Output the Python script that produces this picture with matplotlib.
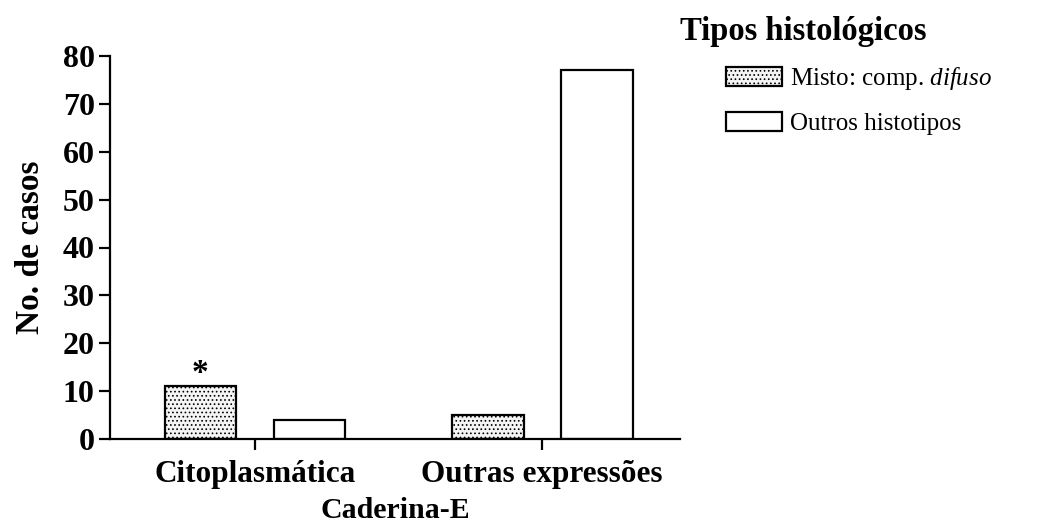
import matplotlib.pyplot as plt
import numpy as np

plt.rcParams['font.family'] = ['Liberation Serif', 'DejaVu Serif']
plt.rcParams['mathtext.fontset'] = 'custom'
plt.rcParams['mathtext.rm'] = 'Liberation Serif'
plt.rcParams['mathtext.it'] = 'Liberation Serif:italic'
plt.rcParams['hatch.linewidth'] = 0.7
plt.rcParams['hatch.color'] = '#707070'

grupos = ['Citoplasmática', 'Outras expressões']
misto_difuso = [11, 5]
outros_histotipos = [4, 77]

fig = plt.figure(figsize=(10.63, 5.3), dpi=100)
ax = fig.add_axes([110/1063, 1 - 439/530, 570/1063, 383/530])

x = np.arange(len(grupos))
larg = 0.25
b1 = ax.bar(x - 0.19, misto_difuso, larg, facecolor='#f4f4f4', edgecolor='black',
            hatch='....', linewidth=1.6, label='Misto: comp. $\\it{difuso}$')
b2 = ax.bar(x + 0.19, outros_histotipos, larg, facecolor='white', edgecolor='black',
            linewidth=1.6, label='Outros histotipos')

# asterisco de significancia
ax.text(x[0] - 0.19, misto_difuso[0] + 2.6, '*', ha='center', va='center',
        fontsize=24, fontweight='bold')

ax.set_xlim(-0.505, 1.48)
ax.set_ylim(0, 80)
ax.set_yticks(range(0, 81, 10))
ax.set_xticks(x)
ax.set_xticklabels(grupos, fontsize=22.5, fontweight='bold')
ax.tick_params(axis='y', labelsize=23, width=1.6, length=8, pad=3)
ax.tick_params(axis='x', width=1.6, length=8, pad=7)
for t in ax.get_yticklabels():
    t.set_fontweight('bold')
ax.spines['top'].set_visible(False)
ax.spines['right'].set_visible(False)
ax.spines['left'].set_linewidth(1.6)
ax.spines['bottom'].set_linewidth(1.6)

ax.set_xlabel('Caderina-E', fontsize=21.5, fontweight='bold', labelpad=6)
ax.set_ylabel('No. de casos', fontsize=24, fontweight='bold', labelpad=12)

fig.text(680/1063, 1 - 40/530, 'Tipos histológicos', fontsize=23.5, fontweight='bold')
leg = fig.legend(handles=[b1, b2], loc='upper left', bbox_to_anchor=(726/1063, 1 - 65/530),
                 frameon=False, fontsize=18, handlelength=2.25, handleheight=0.8,
                 handletextpad=0.3, labelspacing=0.8, borderpad=0, borderaxespad=0)

fig.savefig('out.png', dpi=100)
